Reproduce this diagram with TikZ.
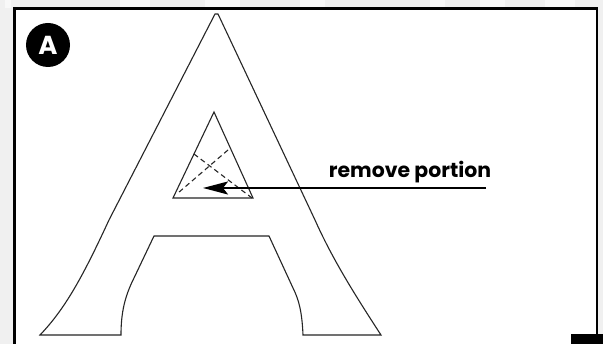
\documentclass[tikz,border=0pt]{standalone}
\usepackage{fontspec}
\setmainfont{Poppins}
\usetikzlibrary{arrows.meta,positioning}

\begin{document}
\begin{tikzpicture}[x=1pt, y=-1pt, >={Stealth[length=25pt,width=13pt,inset=5pt]},
outline/.style={draw=black!85, line width=1.1pt, line join=miter},
cutline/.style={draw=black!85, line width=1.1pt, dash pattern=on 5pt off 3.5pt},
pointer/.style={draw=black, line width=2pt},
badge/.style={circle, fill=black, text=white, minimum size=44pt, inner sep=0pt, font=\fontsize{26}{26}\selectfont\bfseries},
callout/.style={inner sep=0pt, font=\fontsize{20.4}{20.4}\selectfont\bfseries},
band/.style={fill=white, opacity=0.55}]

\useasboundingbox (0,0) rectangle (603,344);
\clip (0,0) rectangle (603,344);

% page behind the panel
\fill[black!6] (0,0) rectangle (603,344);
\foreach \bandx/\bandw in {5/6, 120/30, 205/35, 300/25, 430/15, 480/25, 545/30}
  \fill[band] (\bandx,0) rectangle ++(\bandw,8);

% panel
\draw[fill=white, line width=2.6pt] (14.5,8.5) rectangle (597,360);
\node[fill=black, minimum width=32pt, minimum height=10pt, inner sep=0pt, anchor=north west] (block) at (571,334) {};
\node[badge] (letter) at (48,45) {A};

% letter outline
\draw[outline] (215,14) -- (218,14) -- (315,220)
  .. controls (332,258) and (353,292) .. (381,335)
  -- (303,335) .. controls (302,312) and (299,300) .. (293,288)
  -- (269,236) -- (154,236) -- (134,278)
  .. controls (125,296) and (121,312) .. (121,335)
  -- (40,335) .. controls (66,308) and (84,274) .. (109,220) -- cycle;

% inner triangle and cut lines
\coordinate (top) at (214,112);
\coordinate (left) at (173,198);
\coordinate (right) at (253,198);
\draw[outline] (top) -- (left) -- (right) -- cycle;
\draw[cutline] (194,154) -- (252,198);
\draw[cutline] (228,150) -- (178,193);

\node[callout, anchor=base] (label) at (410,178) {remove portion};
\coordinate (tail) at (486,188);
\coordinate (head) at (203,188);
\draw[->, pointer] (tail) -- (head);
\end{tikzpicture}
\end{document}
